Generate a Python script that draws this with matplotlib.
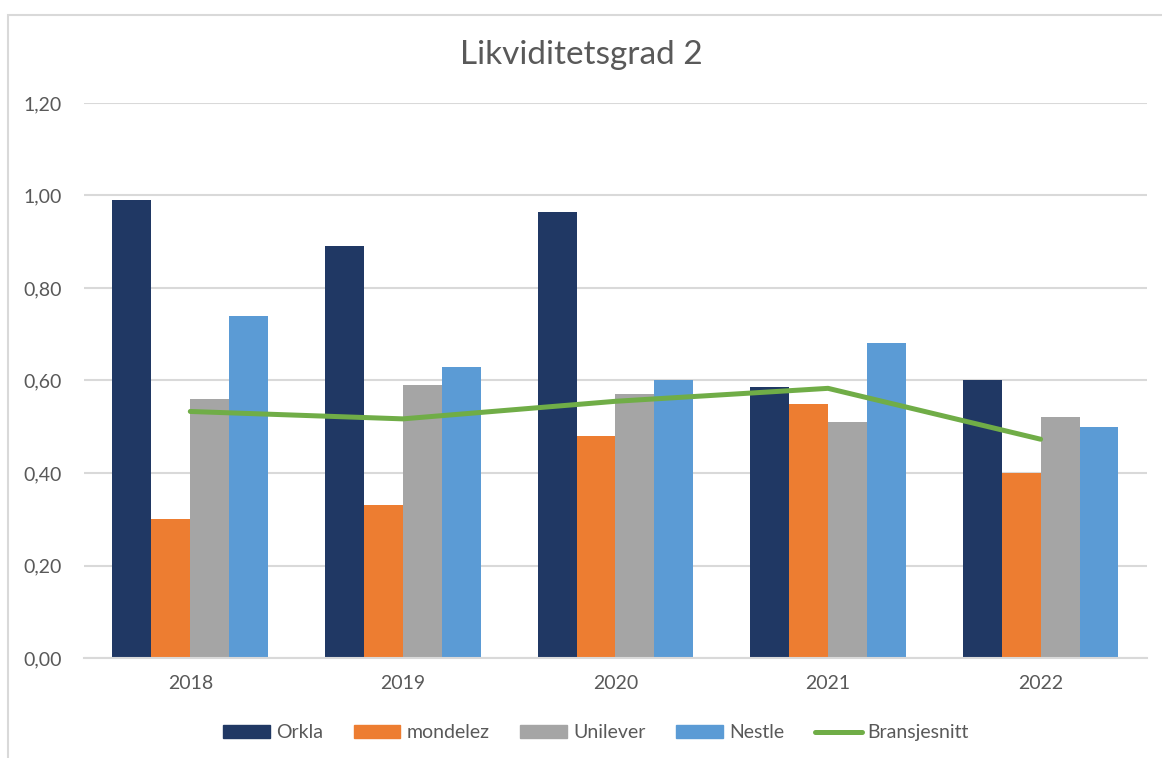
import matplotlib.pyplot as plt
import numpy as np
from matplotlib.patches import Rectangle
from matplotlib.lines import Line2D

# Chart data
years = ["2018", "2019", "2020", "2021", "2022"]
orkla = [0.99, 0.89, 0.965, 0.585, 0.60]
mondelez = [0.30, 0.33, 0.48, 0.55, 0.40]
unilever = [0.56, 0.59, 0.57, 0.51, 0.52]
nestle = [0.74, 0.63, 0.60, 0.68, 0.50]
bransjesnitt = [0.533, 0.517, 0.555, 0.583, 0.473]

series_names = ["Orkla", "mondelez", "Unilever", "Nestle"]
series_colors = ["#203864", "#ed7d31", "#a5a5a5", "#5b9bd5"]
line_color = "#70ad47"
text_color = "#595959"

plt.rcParams['font.family'] = ['Lato', 'DejaVu Sans']

fig = plt.figure(figsize=(11.62, 7.58), dpi=100)
ax = fig.add_axes([0.0723, 0.1319, 0.9147, 0.7323])

x = np.arange(len(years))
width = 0.183
all_series = [orkla, mondelez, unilever, nestle]
for i, (vals, name, col) in enumerate(zip(all_series, series_names, series_colors)):
    ax.bar(x + (i - 1.5) * width, vals, width, color=col, label=name, zorder=2)

ax.plot(x, bransjesnitt, color=line_color, linewidth=3.6, label="Bransjesnitt",
        solid_capstyle='round', zorder=3)

ax.set_xlim(-0.5, 4.5)
ax.set_ylim(0, 1.2)
yt = np.arange(0, 1.21, 0.2)
ax.set_yticks(yt)
ax.set_yticklabels([f"{v:.2f}".replace(".", ",") for v in yt])
ax.set_xticks(x)
ax.set_xticklabels(years)
ax.tick_params(axis='both', length=0, labelsize=14, colors=text_color)
ax.tick_params(axis='y', pad=16)
ax.tick_params(axis='x', pad=12)
ax.yaxis.grid(True, color="#d9d9d9", linewidth=1.5, zorder=0)
ax.set_axisbelow(True)
for side in ["top", "right", "left"]:
    ax.spines[side].set_visible(False)
ax.spines["bottom"].set_color("#d9d9d9")
ax.spines["bottom"].set_linewidth(1.5)

fig.text(0.5, 0.927, "Likviditetsgrad 2", ha="center", va="center",
         fontsize=24, color=text_color)

handles = [Rectangle((0, 0), 1, 1, color=c) for c in series_colors]
handles.append(Line2D([0], [0], color=line_color, linewidth=3.6, solid_capstyle='round'))
labels = series_names + ["Bransjesnitt"]
fig.legend(handles, labels, loc="center", bbox_to_anchor=(0.513, 0.033), ncol=5,
           frameon=False, fontsize=14, labelcolor=text_color, handlelength=2.4,
           handleheight=0.65, handletextpad=0.3, columnspacing=1.6)

# chart area border (light grey frame, left and top visible)
fig.patches.append(Rectangle((8 / 1162, -0.05), 1.1, 1 - 15 / 758 + 0.05,
                             transform=fig.transFigure, fill=False,
                             edgecolor="#d9d9d9", linewidth=1.5))

fig.savefig("out.png", dpi=100)
